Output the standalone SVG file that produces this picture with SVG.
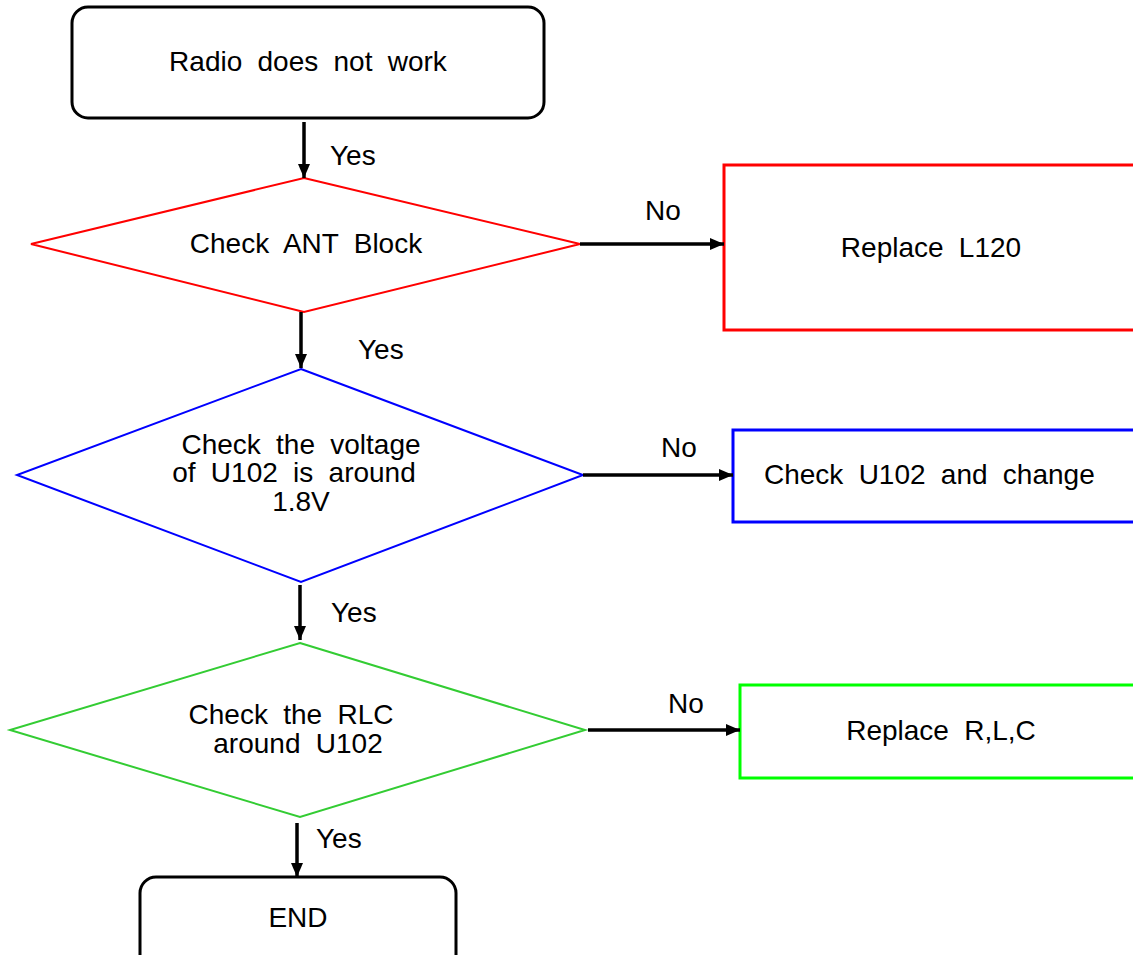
<svg xmlns="http://www.w3.org/2000/svg" width="1133" height="955" viewBox="0 0 1133 955">
<defs>
<marker id="ah" markerWidth="14" markerHeight="12" refX="14" refY="6" orient="auto" markerUnits="userSpaceOnUse">
<path d="M0,0 L14,6 L0,12 Z" fill="#000"/>
</marker>
<style>
text{font-family:"Liberation Sans",Arial,sans-serif;font-size:28px;fill:#000;word-spacing:7.5px}
.c{text-anchor:middle}
.term{fill:#fff;stroke:#000;stroke-width:3}
.con{stroke:#000;stroke-width:3.5;fill:none;marker-end:url(#ah)}
</style>
</defs>
<rect width="1133" height="955" fill="#fff"/>
<g id="start">
<rect class="term" x="72" y="7" width="472" height="111" rx="16"/>
<text class="c" x="308" y="71">Radio does not work</text>
</g>
<g id="d1">
<polygon points="304,178 580,244 304,312 31,244" fill="#fff" stroke="#ff0000" stroke-width="2"/>
<text class="c" x="306" y="253">Check ANT Block</text>
</g>
<g id="r1">
<rect x="724" y="165" width="420" height="165" fill="#fff" stroke="#ff0000" stroke-width="3"/>
<text class="c" x="931" y="257">Replace L120</text>
</g>
<g id="d2">
<polygon points="301,369 583,475 301,582 17,475" fill="#fff" stroke="#0000ff" stroke-width="2"/>
<text class="c" x="301" y="454">Check the voltage</text>
<text class="c" x="294" y="482">of U102 is around</text>
<text class="c" x="301" y="511">1.8V</text>
</g>
<g id="r2">
<rect x="733" y="430" width="420" height="92" fill="#fff" stroke="#0000ff" stroke-width="3"/>
<text x="764" y="484">Check U102 and change</text>
</g>
<g id="d3">
<polygon points="300,643 585,730 300,817 10,730" fill="#fff" stroke="#33cc33" stroke-width="2"/>
<text class="c" x="291" y="724">Check the RLC</text>
<text class="c" x="298" y="753">around U102</text>
</g>
<g id="r3">
<rect x="740" y="685" width="420" height="93" fill="#fff" stroke="#00ff00" stroke-width="3"/>
<text class="c" x="941" y="740">Replace R,L,C</text>
</g>
<g id="end">
<rect class="term" x="140" y="877" width="316" height="110" rx="16"/>
<text class="c" x="298" y="927">END</text>
</g>
<g id="connectors">
<line class="con" x1="304" y1="122" x2="304" y2="178"/>
<text x="330" y="165">Yes</text>
<line class="con" x1="580" y1="244" x2="724" y2="244"/>
<text x="645" y="220">No</text>
<line class="con" x1="301" y1="312" x2="301" y2="368"/>
<text x="358" y="359">Yes</text>
<line class="con" x1="583" y1="475" x2="733" y2="475"/>
<text x="661" y="457">No</text>
<line class="con" x1="300" y1="585" x2="300" y2="640"/>
<text x="331" y="622">Yes</text>
<line class="con" x1="588" y1="730" x2="740" y2="730"/>
<text x="668" y="713">No</text>
<line class="con" x1="297" y1="823" x2="297" y2="877"/>
<text x="316" y="848">Yes</text>
</g>
</svg>
